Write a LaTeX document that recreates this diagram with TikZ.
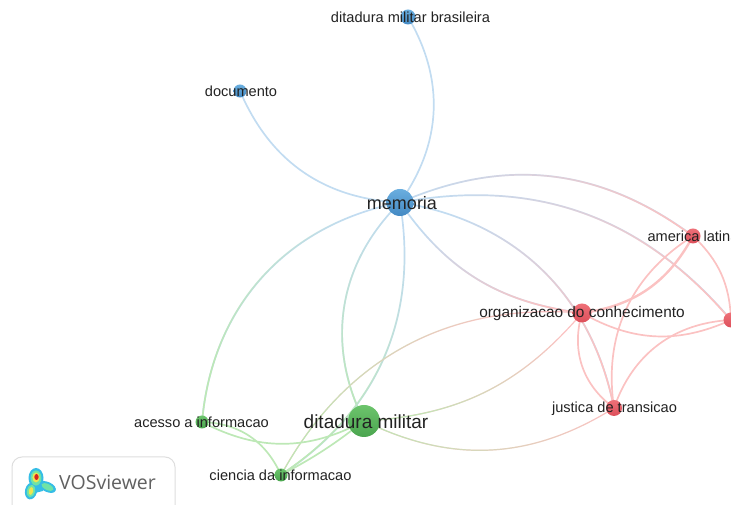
\documentclass[tikz,border=0pt]{standalone}
\usepackage{fontspec}
\setmainfont{Liberation Sans}
\newfontfamily\logofont{Open Sans}
\usetikzlibrary{backgrounds,fadings}
\tikzfading[name=ramp,left color=transparent!100,right color=transparent!0]
\definecolor{eb}{HTML}{C2DCF1}
\definecolor{eg}{HTML}{BDE8B6}
\definecolor{er}{HTML}{FBC2C2}
\definecolor{txt}{HTML}{222222}
\definecolor{nbt}{HTML}{6AAEDF}
\definecolor{nbb}{HTML}{4389C3}
\definecolor{ngt}{HTML}{6CC46C}
\definecolor{ngb}{HTML}{4BA54F}
\definecolor{nrt}{HTML}{EE7078}
\definecolor{nrb}{HTML}{DD4F5A}
\definecolor{lga}{HTML}{35BDE6}
\definecolor{lgb}{HTML}{6FE3A6}
\definecolor{lgc}{HTML}{EFE650}
\definecolor{lgd}{HTML}{D8261F}
\tikzset{
  kw/.style={circle,inner sep=0pt,minimum size=#1},
  blue/.style={top color=nbt,bottom color=nbb},
  green/.style={top color=ngt,bottom color=ngb},
  red/.style={top color=nrt,bottom color=nrb},
  lbl/.style={text=txt,font=\fontsize{14.6}{14.6}\selectfont,inner sep=0pt,yshift=-0.5pt},
  lblo/.style={text=txt,font=\fontsize{15.4}{15.4}\selectfont,inner sep=0pt,yshift=-0.5pt},
  lblm/.style={text=txt,font=\fontsize{18}{18}\selectfont,inner sep=0pt,yshift=-1pt,xshift=2pt},
  lbll/.style={text=txt,font=\fontsize{19}{19}\selectfont,inner sep=0pt,yshift=-0.5pt,xshift=2pt},
  link/.style={line width=1.7pt,draw=#1},
  linkthin/.style={line width=1.2pt,draw=#1},
  linkthick/.style={line width=2.4pt,draw=#1}
}
% solid link between two named nodes
\newcommand\sedge[4]{\draw[link=#4] (#1.center) to[#3] (#2.center);}
% link whose colour runs from #4 at node #1 to #5 at node #2, fading direction #6
\newcommand\gedge[6]{%
  \draw[link=#4] (#1.center) to[#3] (#2.center);
  \draw[link=#5,path fading=ramp,fading angle=#6] (#1.center) to[#3] (#2.center);}
\newcommand\tedge[6]{%
  \draw[linkthin=#4] (#1.center) to[#3] (#2.center);
  \draw[linkthin=#5,path fading=ramp,fading angle=#6] (#1.center) to[#3] (#2.center);}
\begin{document}
\begin{tikzpicture}[x=1pt,y=1pt]
\useasboundingbox (0,0) rectangle (731,505);
\clip (0,0) rectangle (731,505);
% nodes (y = 505 - image y)
\node[kw=27pt,blue,label={[lblm]center:memoria}] (mem) at (400,302.5) {};
\node[kw=15pt,blue,label={[lbl,xshift=2.5pt]center:ditadura militar brasileira}] (dmb) at (408,488) {};
\node[kw=13pt,blue,label={[lbl,xshift=1pt]center:documento}] (doc) at (240,414) {};
\node[kw=15pt,red,label={[lbl]center:america latina}] (ame) at (693,269) {};
\node[kw=15pt,red] (rgt) at (731,185) {};
\node[kw=19pt,red,label={[lblo]center:organizacao do conhecimento}] (org) at (582,192) {};
\node[kw=16pt,red,label={[lbl,xshift=0.5pt]center:justica de transicao}] (jus) at (614,97) {};
\node[kw=32pt,green,label={[lbll]center:ditadura militar}] (dm) at (364,84) {};
\node[kw=13pt,green,label={[lbl,xshift=-0.5pt]center:acesso a informacao}] (ace) at (202,83) {};
\node[kw=13pt,green,label={[lbl,xshift=-0.5pt]center:ciencia da informacao}] (cie) at (281,30) {};
\begin{scope}[on background layer]
  \sedge{mem}{dmb}{bend right=33}{eb}
  \sedge{mem}{doc}{bend left=32}{eb}
  \gedge{mem}{ace}{bend right=37}{eb}{eg}{228}
  \gedge{mem}{dm}{bend right=36}{eb}{eg}{265}
  \gedge{mem}{cie}{bend left=33}{eb}{eg}{246}
  \gedge{mem}{ame}{bend left=30}{eb}{er}{-7}
  \gedge{mem}{rgt}{bend left=30}{eb}{er}{-20}
  \gedge{mem}{jus}{bend left=35}{eb}{er}{-44}
  \gedge{mem}{org}{bend right=24}{eb}{er}{-31}
  \draw[linkthick=er] (org.center) to[bend right=27] (ame.center);
  \sedge{ame}{jus}{bend right=33}{er}
  \sedge{ame}{rgt}{bend left=22}{er}
  \sedge{org}{rgt}{bend right=27}{er}
  \sedge{jus}{rgt}{bend left=34}{er}
  \sedge{org}{jus}{bend right=35}{er}
  \tedge{jus}{dm}{bend left=29}{er}{eg}{183}
  \tedge{org}{dm}{bend left=23}{er}{eg}{206}
  \tedge{org}{cie}{bend right=33}{er}{eg}{208}
  \sedge{ace}{dm}{bend right=28}{eg}
  \sedge{dm}{cie}{bend left=5}{eg}
  \sedge{ace}{cie}{bend left=32}{eg}
\end{scope}
% VOSviewer logo
\draw[draw=black!13,line width=1pt,rounded corners=10pt,fill=white] (12,-12) rectangle (175,48);
\fill[lga] (36,27) ellipse (7.5pt and 10pt);
\fill[lga,rotate around={-12:(31,14)}] (31,14) ellipse (6pt and 8.5pt);
\fill[lga,rotate around={-25:(47.5,18)}] (47.5,18) ellipse (9pt and 5pt);
\fill[lga] (33,24) -- (44,24) -- (43,14) -- (35,12) -- cycle;
\fill[lgb] (36,27) ellipse (5.4pt and 7.6pt);
\fill[lgb,rotate around={-12:(31,14)}] (31,14) ellipse (4pt and 6.4pt);
\fill[lgb,rotate around={-25:(47.5,18)}] (47.5,18) ellipse (6.5pt and 3pt);
\fill[lgc] (36,27.5) ellipse (3.6pt and 5pt);
\fill[lgc,rotate around={-12:(31,14)}] (31,14) ellipse (2.2pt and 4pt);
\fill[lgd] (36.5,28) ellipse (2.2pt and 3pt);
\node[inner sep=0pt,text=black!62,font=\logofont\fontsize{19.5}{19.5}\selectfont] (vos) at (107.5,23) {VOSviewer};
\end{tikzpicture}
\end{document}
